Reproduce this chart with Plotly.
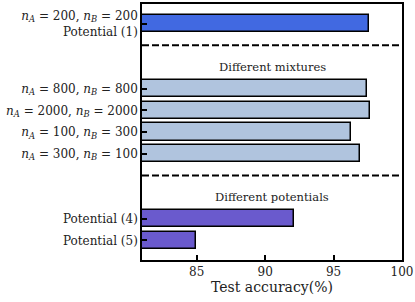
import plotly.graph_objects as go

# Data
labels = [
    "<i>n</i><sub><i>A</i></sub> = 200, <i>n</i><sub><i>B</i></sub> = 200<br>Potential (1)",
    "<i>n</i><sub><i>A</i></sub> = 800, <i>n</i><sub><i>B</i></sub> = 800",
    "<i>n</i><sub><i>A</i></sub> = 2000, <i>n</i><sub><i>B</i></sub> = 2000",
    "<i>n</i><sub><i>A</i></sub> = 100, <i>n</i><sub><i>B</i></sub> = 300",
    "<i>n</i><sub><i>A</i></sub> = 300, <i>n</i><sub><i>B</i></sub> = 100",
    "Potential (4)",
    "Potential (5)",
]
accuracy = [97.57, 97.45, 97.64, 96.24, 96.92, 92.09, 84.96]
positions = [10, 7, 6, 5, 4, 1, 0]
bar_colors = ["#4169E1", "#B0C4DE", "#B0C4DE", "#B0C4DE", "#B0C4DE", "#6A5ACD", "#6A5ACD"]
group_titles = ["Different mixtures", "Different potentials"]
group_title_pos = [8, 2]
separator_pos = [9, 3]
x_ticks = [85, 90, 95, 100]

font_family = "DejaVu Serif"

fig = go.Figure()
fig.add_trace(go.Bar(
    x=accuracy, y=positions, orientation="h",
    width=0.8, base=0,
    marker=dict(color=bar_colors, line=dict(color="black", width=1.5)),
    showlegend=False, hoverinfo="skip",
))

for yv in separator_pos:
    fig.add_shape(type="line", xref="paper", x0=0, x1=1, yref="y", y0=yv, y1=yv,
                  line=dict(color="black", width=2, dash="7px,3px"))

for t, yv in zip(group_titles, group_title_pos):
    fig.add_annotation(text=t, xref="paper", x=0.5, yref="y", y=yv, showarrow=False,
                       font=dict(family=font_family, size=11.5, color="#222"))

fig.update_layout(
    width=415, height=302,
    margin=dict(l=142, r=11, t=2, b=42),
    plot_bgcolor="white", paper_bgcolor="white",
    font=dict(family=font_family, size=12, color="#222"),
    bargap=0,
)
fig.update_xaxes(
    range=[81, 100.001], tickvals=x_ticks, ticks="inside", ticklen=5, tickwidth=1.5,
    tickcolor="black", showline=True, linecolor="black", linewidth=1.5, mirror=True,
    showgrid=False, zeroline=False, ticklabeloverflow="allow",
    title=dict(text="Test accuracy(%)", font=dict(size=14, family=font_family), standoff=4),
    tickfont=dict(size=12, family=font_family),
)
fig.update_yaxes(
    range=[-0.9, 10.9], tickvals=positions, ticktext=labels, ticks="inside", ticklen=5,
    tickwidth=1.5, tickcolor="black", showline=True, linecolor="black", linewidth=1.5,
    mirror=True, showgrid=False, zeroline=False,
    tickfont=dict(size=12, family=font_family),
)

fig.write_html("out.html", config={"displayModeBar": False},
               post_script="document.body.style.margin='0px';")
